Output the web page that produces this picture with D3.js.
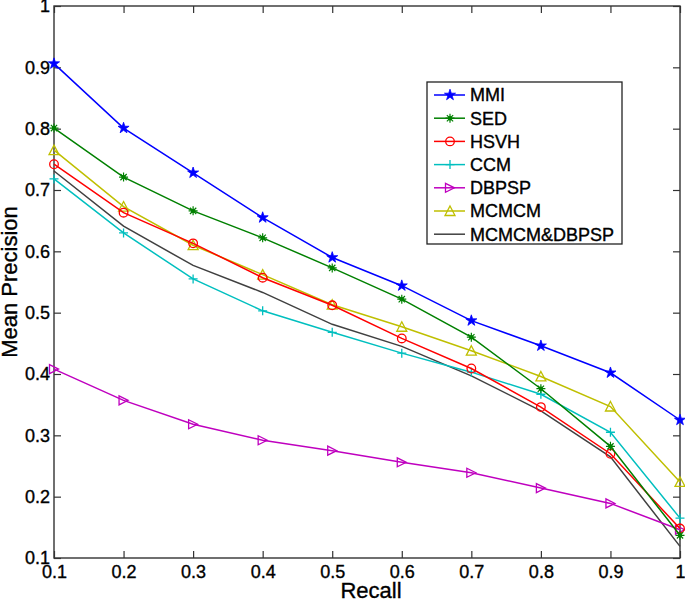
<!DOCTYPE html>
<html>
<head>
<meta charset="utf-8">
<script src="https://cdn.jsdelivr.net/npm/d3@7"></script>
<style>
  body { margin: 0; background: #fff; }
  svg text { font-family: "Liberation Sans", Arial, sans-serif; fill: #000; stroke: #000; stroke-width: 0.35px; }
</style>
</head>
<body>
<div id="chart"></div>
<script>
const recall = [0.1, 0.2, 0.3, 0.4, 0.5, 0.6, 0.7, 0.8, 0.9, 1];
const xTicks = [0.1, 0.2, 0.3, 0.4, 0.5, 0.6, 0.7, 0.8, 0.9, 1];
const yTicks = [0.1, 0.2, 0.3, 0.4, 0.5, 0.6, 0.7, 0.8, 0.9, 1];

const mmi    = [0.906, 0.801, 0.728, 0.655, 0.590, 0.544, 0.487, 0.446, 0.402, 0.325];
const sed    = [0.801, 0.721, 0.666, 0.622, 0.573, 0.522, 0.460, 0.376, 0.282, 0.137];
const hsvh   = [0.742, 0.663, 0.613, 0.557, 0.512, 0.458, 0.409, 0.346, 0.270, 0.148];
const ccm    = [0.718, 0.630, 0.555, 0.503, 0.468, 0.434, 0.403, 0.367, 0.305, 0.165];
const dbpsp  = [0.408, 0.357, 0.318, 0.292, 0.275, 0.256, 0.239, 0.214, 0.189, 0.146];
const mcmcm  = [0.765, 0.673, 0.610, 0.562, 0.513, 0.477, 0.438, 0.396, 0.347, 0.224];
const fusion = [0.731, 0.641, 0.577, 0.533, 0.481, 0.445, 0.397, 0.340, 0.265, 0.119];

const series = [
  { name: "MMI", values: mmi, color: "#0000ff", marker: "star" },
  { name: "SED", values: sed, color: "#008000", marker: "asterisk" },
  { name: "HSVH", values: hsvh, color: "#ff0000", marker: "circle" },
  { name: "CCM", values: ccm, color: "#00bfbf", marker: "plus" },
  { name: "DBPSP", values: dbpsp, color: "#bf00bf", marker: "right" },
  { name: "MCMCM", values: mcmcm, color: "#bfbf00", marker: "up" },
  { name: "MCMCM&DBPSP", values: fusion, color: "#404040", marker: null }
];

const W = 685, H = 600;
const margin = { top: 6, right: 5, bottom: 42, left: 54 };
const width = W - margin.left - margin.right;
const height = H - margin.top - margin.bottom;

const svg = d3.select("#chart").append("svg")
  .attr("width", W).attr("height", H);
const g = svg.append("g").attr("transform", `translate(${margin.left},${margin.top})`);

const x = d3.scaleLinear().domain([0.1, 1]).range([0, width]);
const y = d3.scaleLinear().domain([0.1, 1]).range([height, 0]);

const fmt = d => d === 1 ? "1" : d3.format(".1f")(d);

// box + inward ticks
g.append("rect").attr("width", width).attr("height", height)
  .attr("fill", "none").attr("stroke", "#333").attr("stroke-width", 1.4);

const axisStyle = sel => {
  sel.select(".domain").remove();
  sel.selectAll(".tick line").attr("stroke", "#333").attr("stroke-width", 1.2);
  sel.selectAll(".tick text").style("font-size", "18px");
};

g.append("g").attr("transform", `translate(0,${height})`)
  .call(d3.axisBottom(x).tickValues(xTicks).tickFormat(fmt).tickSizeInner(-7).tickPadding(7))
  .call(axisStyle);
g.append("g")
  .call(d3.axisTop(x).tickValues(xTicks).tickFormat("").tickSizeInner(-7))
  .call(axisStyle);
g.append("g")
  .call(d3.axisLeft(y).tickValues(yTicks).tickFormat(fmt).tickSizeInner(-7).tickPadding(4))
  .call(axisStyle);
g.append("g").attr("transform", `translate(${width},0)`)
  .call(d3.axisRight(y).tickValues(yTicks).tickFormat("").tickSizeInner(-7))
  .call(axisStyle);

// axis titles
svg.append("text").attr("x", margin.left + width / 2 + 4).attr("y", 598)
  .attr("text-anchor", "middle").style("font-size", "22px")
  .text("Recall");
svg.append("text").attr("transform", `translate(17,${margin.top + height / 2}) rotate(-90)`)
  .attr("text-anchor", "middle").style("font-size", "22px")
  .text("Mean Precision");

function drawMarker(sel, type, color) {
  const s = 4.5;
  if (type === "star") {
    sel.append("path").attr("d", d3.symbol(d3.symbolStar, 38)())
      .attr("fill", color).attr("stroke", color).attr("stroke-width", 0.8);
  } else if (type === "asterisk") {
    sel.append("path").attr("d", `M${-s},0H${s}M0,${-s}V${s}M${-s*0.7},${-s*0.7}L${s*0.7},${s*0.7}M${-s*0.7},${s*0.7}L${s*0.7},${-s*0.7}`)
      .attr("stroke", color).attr("stroke-width", 1.2).attr("fill", "none");
    sel.append("circle").attr("r", 2.2).attr("fill", color);
  } else if (type === "circle") {
    sel.append("circle").attr("r", 4.3).attr("fill", "none").attr("stroke", color).attr("stroke-width", 1.3);
  } else if (type === "plus") {
    sel.append("path").attr("d", `M${-s},0H${s}M0,${-s}V${s}`)
      .attr("stroke", color).attr("stroke-width", 1.3).attr("fill", "none");
  } else if (type === "right") {
    sel.append("path").attr("d", `M${-s},${-s}L${s},0L${-s},${s}Z`)
      .attr("stroke", color).attr("stroke-width", 1.3).attr("fill", "none");
  } else if (type === "up") {
    sel.append("path").attr("d", `M0,${-s-0.5}L${s+0.5},${s}L${-s-0.5},${s}Z`)
      .attr("stroke", color).attr("stroke-width", 1.3).attr("fill", "none");
  }
}

const line = d3.line().x((d, i) => x(recall[i])).y(d => y(d));

// draw in reverse so MMI ends on top
series.slice().reverse().forEach(s => {
  g.append("path").datum(s.values).attr("d", line)
    .attr("fill", "none").attr("stroke", s.color).attr("stroke-width", 1.5);
  if (s.marker) {
    s.values.forEach((v, i) => {
      const m = g.append("g").attr("transform", `translate(${x(recall[i])},${y(v)})`);
      drawMarker(m, s.marker, s.color);
    });
  }
});

// legend
const lg = svg.append("g").attr("transform", "translate(427,82)");
lg.append("rect").attr("width", 195).attr("height", 162)
  .attr("fill", "#fff").attr("stroke", "#222").attr("stroke-width", 1.3);
series.forEach((s, i) => {
  const yy = 13 + i * 23.2;
  const row = lg.append("g").attr("transform", `translate(0,${yy})`);
  row.append("line").attr("x1", 7).attr("x2", 38).attr("y1", 0).attr("y2", 0)
    .attr("stroke", s.color).attr("stroke-width", 1.5);
  if (s.marker) {
    const m = row.append("g").attr("transform", "translate(23,0)");
    drawMarker(m, s.marker, s.color);
  }
  row.append("text").attr("x", 43).attr("y", 0).attr("dy", "0.36em")
    .style("font-size", "18px").text(s.name);
});
</script>
</body>
</html>
